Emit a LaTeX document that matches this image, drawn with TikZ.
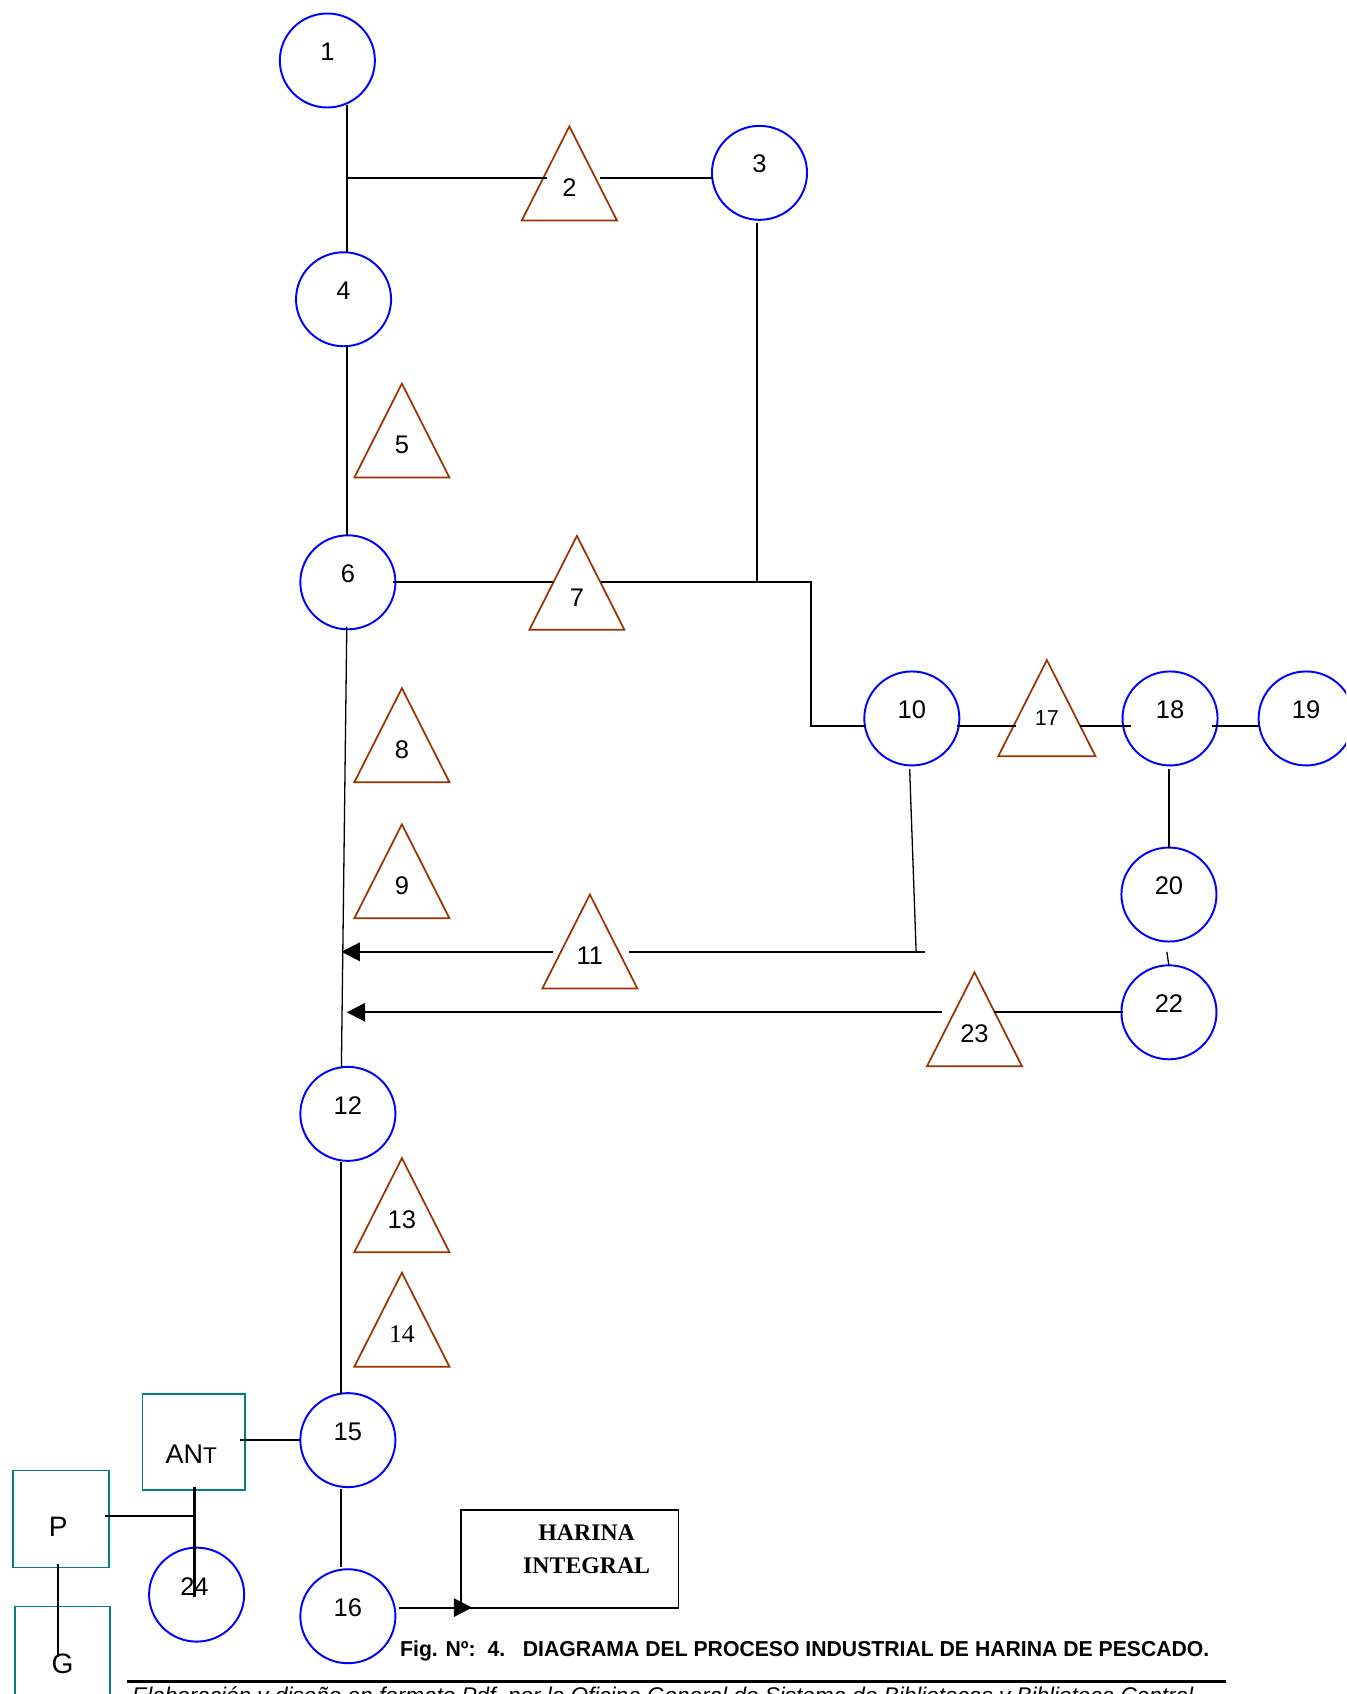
\documentclass[tikz,border=0pt]{standalone}
\usepackage{fontspec}
\usepackage{graphicx}
\setmainfont{Liberation Sans}
\newfontfamily\seriff{Liberation Serif}
\usetikzlibrary{shapes.geometric,arrows.meta}
\definecolor{cblue}{RGB}{0,0,255}
\definecolor{tribrown}{RGB}{153,51,0}
\definecolor{tealbox}{RGB}{0,128,128}
\newcommand\circnode[4]{%
  \node[circ] (#1) at (#2,#3) {};
  \node[lbl] (#1l) at (#2,#3-8) {#4};}
\newcommand\trinode[4]{%
  \draw[tri] (#2,#3) -- ++(44,87) -- ++(-88,0) -- cycle;
  \node[lbl] (#1) at (#2,#3+57) {#4};}
\begin{document}
\begin{tikzpicture}[x=0.5pt,y=-0.5pt,
  circ/.style={draw=cblue, line width=0.9pt, ellipse, inner sep=0pt, minimum width=44pt, minimum height=43.5pt},
  lbl/.style={font=\fontsize{11.8}{13}\selectfont, inner sep=0pt},
  tri/.style={draw=tribrown, line width=0.8pt},
  ln/.style={line width=1pt},
  thinln/.style={line width=0.6pt},
  boxt/.style={draw=tealbox, line width=0.8pt, inner sep=0pt},
  arr/.style={ln, -{Triangle[length=8.5pt,width=8.5pt]}},
]
\useasboundingbox (0,0) rectangle (1246,1568);
\clip (0,0) rectangle (1246,1568);

% circles
\circnode{c1}{303}{56}{1}
\circnode{c3}{703}{160}{3}
\circnode{c4}{318}{277}{4}
\circnode{c6}{322}{539}{6}
\circnode{c10}{844}{665}{10}
\circnode{c18}{1083}{665}{18}
\circnode{c19}{1209}{665}{19}
\circnode{c20}{1082}{828}{20}
\circnode{c22}{1082}{937}{22}
\circnode{c12}{322}{1031}{12}
\circnode{c15}{322}{1333}{15}
\circnode{c16}{322}{1496}{16}
\node[circ] (c24) at (182,1476) {};

% triangles
\trinode{t2}{527}{117}{2}
\trinode{t5}{372}{355}{5}
\trinode{t7}{534}{496}{7}
\trinode{t8}{372}{637}{8}
\trinode{t9}{372}{763}{9}
\trinode{t11}{546}{828}{11}
\trinode{t13}{372}{1072}{13}
\trinode{t14}{372}{1178}{\seriff 14}
\draw[tri] (969,611) -- (1014,700) -- (924,700) -- cycle;
\node[lbl, font=\fontsize{10}{11}\selectfont] (t17) at (969,665) {17};
\trinode{t23}{902}{900}{23}

% coordinates
\coordinate (a1) at (321,97);
\coordinate (a2) at (321,165);
\coordinate (a3) at (321,234);
\coordinate (t2l) at (506,165);
\coordinate (t2r) at (555,165);
\coordinate (c3w) at (660,165);
\coordinate (c3s) at (701,206);
\coordinate (j1) at (701,539);
\coordinate (c4s) at (321,320);
\coordinate (c6n) at (321,496);
\coordinate (c6e) at (364,539);
\coordinate (t7l) at (512,539);
\coordinate (t7r) at (556,539);
\coordinate (j2) at (751,539);
\coordinate (j3) at (751,672);
\coordinate (c10w) at (801,672);
\coordinate (c10e) at (886,672);
\coordinate (t17l) at (940,672);
\coordinate (t17r) at (1000,672);
\coordinate (c18w) at (1047,672);
\coordinate (c18e) at (1122,672);
\coordinate (c19w) at (1166,672);
\coordinate (c18s) at (1082,712);
\coordinate (c20n) at (1082,785);
\coordinate (c20s) at (1080,881);
\coordinate (c22n) at (1082,894);
\coordinate (c6s) at (321,580);
\coordinate (c12n) at (316,988);
\coordinate (c10s) at (842,712);
\coordinate (j4) at (848,881);
\coordinate (j5) at (856,881);
\coordinate (t11r) at (582,881);
\coordinate (t11l) at (512,881);
\coordinate (tip11) at (316,881);
\coordinate (c22w) at (1039,937);
\coordinate (t23r) at (920,937);
\coordinate (t23l) at (872,937);
\coordinate (tip23) at (321,937);
\coordinate (c12s) at (316,1076);
\coordinate (c15n) at (316,1290);
\coordinate (c15s) at (316,1378);
\coordinate (c16n) at (316,1450);
\coordinate (c16e) at (369,1488);
\coordinate (hbtip) at (437,1488);
\coordinate (antr) at (222,1333);
\coordinate (c15w) at (278,1333);
\coordinate (pr) at (97,1403);
\coordinate (j6) at (180,1403);
\coordinate (antb) at (180,1376);
\coordinate (c24c) at (180,1478);
\coordinate (pb) at (54,1448);
\coordinate (gin) at (54,1534);

% connectors
\draw[ln] (a1) -- (a3);
\draw[ln] (a2) -- (t2l);
\draw[ln] (t2r) -- (c3w);
\draw[ln] (c3s) -- (j1);
\draw[ln] (c4s) -- (c6n);
\draw[ln] (c6e) -- (t7l);
\draw[ln] (t7r) -- (j2) -- (j3) -- (c10w);
\draw[ln] (c10e) -- (t17l);
\draw[ln] (t17r) -- (c18w);
\draw[ln] (c18e) -- (c19w);
\draw[ln] (c18s) -- (c20n);
\draw[thinln] (c20s) -- (c22n);
\draw[thinln] (c6s) -- (c12n);
\draw[thinln] (c10s) -- (j4);
\draw[ln] (j5) -- (t11r);
\draw[arr] (t11l) -- (tip11);
\draw[ln] (c22w) -- (t23r);
\draw[arr] (t23l) -- (tip23);
\draw[ln] (c12s) -- (c15n);
\draw[ln] (c15s) -- (c16n);
\draw[arr] (c16e) -- (hbtip);

% boxes
\node[boxt, minimum width=47.5pt, minimum height=44.5pt] (ant) at (179.5,1334.5) {};
\node[lbl, font=\fontsize{12.5}{14}\selectfont] (antl) at (177,1346) {AN\fontsize{10.5}{12}\selectfont T};
\node[boxt, minimum width=44.5pt, minimum height=45pt] (p) at (56.5,1406) {};
\node[lbl, font=\fontsize{13}{15}\selectfont] (pl) at (54,1413) {P};
\node[boxt, minimum width=44pt, minimum height=60pt] (g) at (58,1547) {};
\node[lbl, font=\fontsize{13}{15}\selectfont] (gl) at (58,1540) {G};
\node[lbl] (c24l) at (180,1469) {24};

\draw[ln] (antr) -- (c15w);
\draw[ln] (pr) -- (j6);
\draw[ln] (antb) -- (c24c);
\draw[ln] (pb) -- (gin);

\node[draw, line width=0.9pt, minimum width=100.5pt, minimum height=45pt, inner sep=0pt] (hb) at (527.5,1443) {};
\node[align=center, inner sep=0pt, font=\seriff\bfseries\fontsize{11}{15.5}\selectfont] (hbl) at (543,1434) {HARINA\\INTEGRAL};

% caption and footer
\node[anchor=base west, inner sep=0pt] (cap) at (370,1533)
  {\resizebox{374.5pt}{\height}{\fontsize{10}{12}\selectfont\bfseries Fig. Nº:\ \ 4.\ \ \ DIAGRAMA DEL PROCESO INDUSTRIAL DE HARINA DE PESCADO.}};
\coordinate (rl) at (118,1556);
\coordinate (rr) at (1135,1556);
\draw[line width=1.4pt] (rl) -- (rr);
\node[anchor=base west, inner sep=0pt] (foot) at (122,1577)
  {\resizebox{494pt}{\height}{\fontsize{10.5}{12}\selectfont\itshape Elaboración y diseño en formato Pdf, por la Oficina General de Sistema de Bibliotecas y Biblioteca Central.}};
\end{tikzpicture}
\end{document}
